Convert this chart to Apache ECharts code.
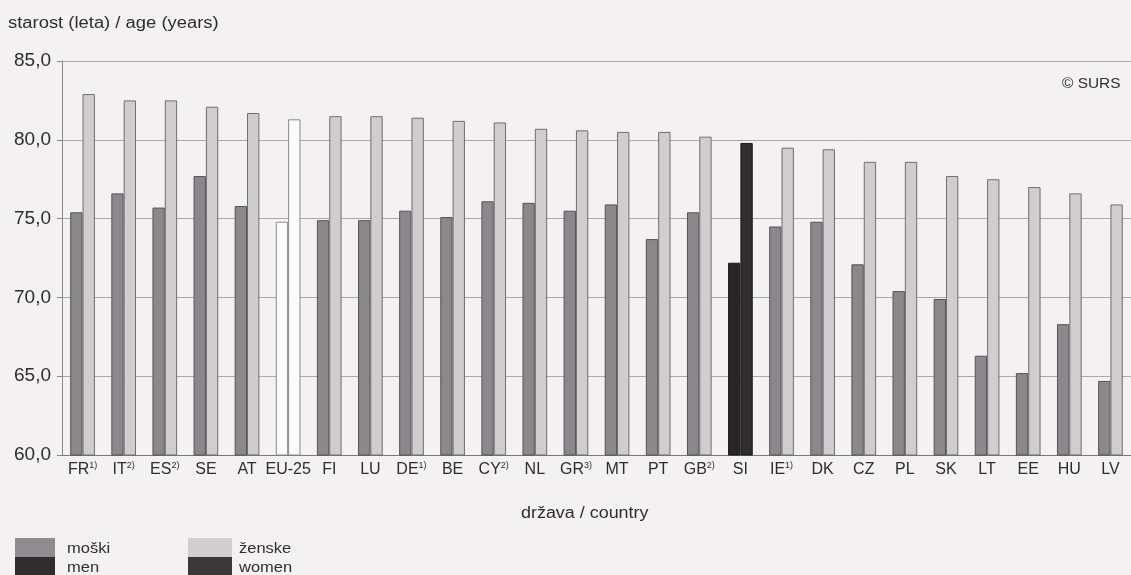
<!DOCTYPE html>
<html><head><meta charset="utf-8">
<script src="https://cdn.jsdelivr.net/npm/echarts@6/dist/echarts.min.js"></script>
<style>html,body{margin:0;padding:0;background:#f3f1f1;}#c{width:1131px;height:575px;}</style>
</head><body><div id="c"></div>
<script>
const categories = ['FR','IT','ES','SE','AT','EU-25','FI','LU','DE','BE','CY','NL','GR','MT','PT','GB','SI','IE','DK','CZ','PL','SK','LT','EE','HU','LV'];
const notes = ['1)','2)','2)','','','','','','1)','','2)','','3)','','','2)','','1)','','','','','','','',''];
const men = [75.4,76.6,75.7,77.7,75.8,74.8,74.9,74.9,75.5,75.1,76.1,76.0,75.5,75.9,73.7,75.4,72.2,74.5,74.8,72.1,70.4,69.9,66.3,65.2,68.3,64.7];
const women = [82.9,82.5,82.5,82.1,81.7,81.3,81.5,81.5,81.4,81.2,81.1,80.7,80.6,80.5,80.5,80.2,79.8,79.5,79.4,78.6,78.6,77.7,77.5,77.0,76.6,75.9];
const yTicks = [60,65,70,75,80,85];

const FONT = 'Liberation Sans, Arial, sans-serif';
const chart = echarts.init(document.getElementById('c'));
function styled(vals, base, border, siColor){
  return vals.map((v,i)=>{
    const c = categories[i];
    let st = {color: base, borderColor: border, borderWidth: 1};
    if (c === 'EU-25') st = {color:'#fbfbfb', borderColor:'#8a8a8a', borderWidth:1};
    if (c === 'SI') st = {color: siColor, borderColor:'#1a1a1a', borderWidth:1};
    return {value: v, itemStyle: st};
  });
}
function txt(text, x, y, size, sx){
  return {type: 'text', x: x, y: y, scaleX: sx, scaleY: 1,
    style: {text: text, font: size + 'px ' + FONT, fill: '#2e2c2c', textVerticalAlign: 'middle'}};
}
chart.setOption({
  backgroundColor: '#f3f1f1',
  animation: false,
  grid: {left: 62, right: -7, top: 61, bottom: 120},
  xAxis: {
    type: 'category', data: categories,
    axisLine: {lineStyle: {color: '#777'}},
    axisTick: {show: false},
    axisLabel: {
      interval: 0, margin: 6,
      formatter: (v, i) => '{b|' + v + '}' + (notes[i] ? '{s|' + notes[i] + '}' : ''),
      rich: {
        b: {fontFamily: FONT, fontSize: 16, color: '#2e2c2c', lineHeight: 18},
        s: {fontFamily: FONT, fontSize: 9, color: '#2e2c2c', lineHeight: 18, verticalAlign: 'top'}
      }
    }
  },
  yAxis: {
    type: 'value', min: 60, max: 85, interval: 5,
    axisLine: {show: true, lineStyle: {color: '#888'}},
    axisTick: {show: true, length: 5, lineStyle: {color: '#888'}},
    splitLine: {lineStyle: {color: '#a9a7a7', width: 1}},
    axisLabel: {
      margin: 11, fontFamily: FONT, fontSize: 19, color: '#2e2c2c',
      formatter: v => yTicks.includes(v) ? v.toFixed(1).replace('.', ',') : ''
    }
  },
  series: [
    {type: 'bar', name: 'moški', data: styled(men, '#8a888a', '#555355', '#272525'), barGap: '0%', barCategoryGap: '40%'},
    {type: 'bar', name: 'ženske', data: styled(women, '#cfcdce', '#6f6d6e', '#302e2e'), barGap: '0%', barCategoryGap: '40%'}
  ],
  graphic: [
    txt('starost (leta) / age (years)', 8, 24, 16, 1.15),
    txt('© SURS', 1062, 84, 14, 1.1),
    txt('država / country', 521, 514, 16, 1.12),
    {type: 'rect', shape: {x: 15, y: 538, width: 40, height: 19}, style: {fill: '#8e8c8e'}},
    {type: 'rect', shape: {x: 15, y: 557, width: 40, height: 18}, style: {fill: '#2e2c2c'}},
    txt('moški', 67, 549, 15, 1.1),
    txt('men', 67, 568, 15, 1.1),
    {type: 'rect', shape: {x: 188, y: 538, width: 44, height: 19}, style: {fill: '#d0cecf'}},
    {type: 'rect', shape: {x: 188, y: 557, width: 44, height: 18}, style: {fill: '#3a3838'}},
    txt('ženske', 239, 549, 15, 1.1),
    txt('women', 239, 568, 15, 1.1)
  ]
});
</script></body></html>
